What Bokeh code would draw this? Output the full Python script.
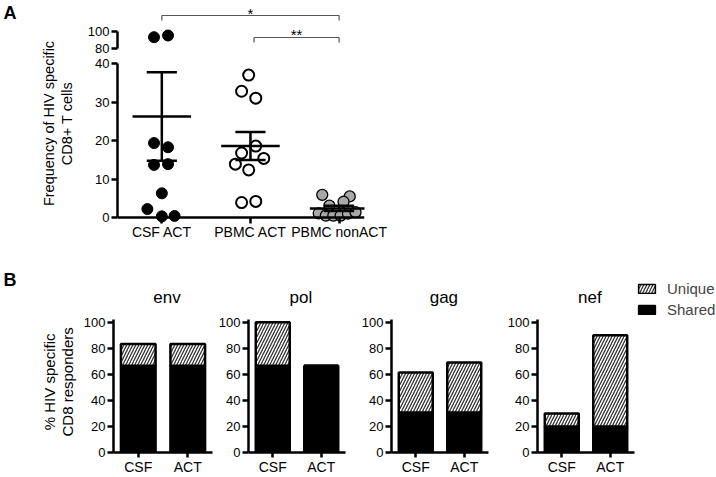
import numpy as np
from bokeh.plotting import figure
from bokeh.layouts import column, row
from bokeh.models import Range1d, FixedTicker, Span, Legend, LegendItem, ColumnDataSource
from bokeh.core.properties import value
from bokeh.transform import stack
from bokeh.embed import file_html
from bokeh.resources import INLINE

FONT = "Liberation Sans"

# ---------------- Panel A data ----------------
groups = ["CSF ACT", "PBMC ACT", "PBMC nonACT"]
csf_act = [93.3, 95.3, 19.4, 18.3, 13.7, 13.9, 6.3, 2.2, 0.3, 0.4]
csf_act_jit = [-0.088, 0.07, -0.088, 0.07, -0.088, 0.07, 0.0, -0.163, 0.0, 0.144]
pbmc_act = [37.1, 32.9, 31.1, 18.6, 16.8, 15.4, 13.9, 12.4, 3.9, 4.2]
pbmc_act_jit = [-0.02, -0.10, 0.06, 0.06, -0.10, 0.15, -0.17, -0.02, -0.10, 0.06]
pbmc_nonact = [5.9, 5.5, 4.1, 3.1, 1.1, 0.5, 0.5, 0.5, 1.0, 1.4]
pbmc_nonact_jit = [-0.19, 0.12, 0.05, -0.11, -0.23, -0.15, -0.065, 0.017, 0.10, 0.185]
upper_ticks = [80, 100]
lower_ticks = [0, 10, 20, 30, 40]
sig_pairs = [(0, 2), (1.04, 2)]
sig_marks = ["*", "**"]

# ---------------- Panel B data ----------------
genes = ["env", "pol", "gag", "nef"]
conds = ["CSF", "ACT"]
shared_csf = [66.7, 66.7, 30.8, 20.0]
unique_csf = [16.7, 33.3, 30.7, 10.0]
shared_act = [66.7, 66.7, 30.8, 20.0]
unique_act = [16.7, 0.0, 38.4, 70.0]
bar_ticks = [0, 20, 40, 60, 80, 100]


def base_fig(**kw):
    p = figure(output_backend="svg", toolbar_location=None, **kw)
    p.outline_line_color = None
    p.background_fill_color = "white"
    p.border_fill_color = "white"
    return p


def style_axis(ax, tick_out=6, font="13px"):
    ax.axis_line_width = 2.5
    ax.axis_line_color = "black"
    ax.major_tick_line_width = 2.5
    ax.major_tick_line_color = "black"
    ax.major_tick_out = tick_out
    ax.major_tick_in = 0
    ax.minor_tick_line_color = None
    ax.major_label_text_font = FONT
    ax.major_label_text_font_size = font
    ax.major_label_text_color = "black"
    ax.major_label_standoff = 2


HATCH = dict(hatch_pattern="/", hatch_color="#333333", hatch_scale=6, hatch_weight=1.3)

# ---------------- Panel A ----------------
LAB_A_W, A_W, A_ML, A_MR = 84, 316, 32, 36
PX_CAT = 89.0
frame_w = A_W - A_ML - A_MR
xr = Range1d(-0.5, -0.5 + frame_w / PX_CAT)

TOP_H = 56
top = base_fig(width=A_W, height=TOP_H, x_range=xr, y_range=Range1d(70.59, 136.47),
               min_border_left=A_ML, min_border_right=A_MR, min_border_top=0, min_border_bottom=0)
top.xaxis.visible = False
top.xgrid.visible = False
top.ygrid.visible = False
style_axis(top.yaxis[0])
top.yaxis[0].ticker = FixedTicker(ticks=upper_ticks)
top.yaxis[0].bounds = (80, 100)

BOT_H, BOT_MB = 191, 24
bot = base_fig(width=A_W, height=BOT_H, x_range=xr, y_range=Range1d(-1.5635, 41.95),
               min_border_left=A_ML, min_border_right=A_MR, min_border_top=0, min_border_bottom=BOT_MB)
bot.xgrid.visible = False
bot.ygrid.visible = False
style_axis(bot.yaxis[0])
bot.yaxis[0].ticker = FixedTicker(ticks=lower_ticks)
bot.yaxis[0].bounds = (0, 40)
xa = bot.xaxis[0]
style_axis(xa, font="14px")
xa.axis_line_color = None
xa.major_tick_in = 6
xa.major_tick_out = 0
xa.major_label_standoff = 0
xa.ticker = FixedTicker(ticks=[0, 1, 2])
xa.major_label_overrides = {i: g for i, g in enumerate(groups)}
bot.add_layout(Span(location=0, dimension="width", line_color="black", line_width=2.5))

series = [
    (csf_act, csf_act_jit, dict(fill_color="black", line_color="black", line_width=1)),
    (pbmc_act, pbmc_act_jit, dict(fill_color="white", line_color="black", line_width=2)),
    (pbmc_nonact, pbmc_nonact_jit, dict(fill_color="#a8a8a8", line_color="black", line_width=1.3)),
]
for gi, (vals, jit, sty) in enumerate(series):
    xs = [gi + j for j in jit]
    hi = [(x, v) for x, v in zip(xs, vals) if v >= 80]
    lo = [(x, v) for x, v in zip(xs, vals) if v <= 40]
    if hi:
        top.scatter([a for a, _ in hi], [b for _, b in hi], size=11, marker="circle", **sty)
    if lo:
        bot.scatter([a for a, _ in lo], [b for _, b in lo], size=11, marker="circle", **sty)
    arr = np.array(vals)
    m = arr.mean()
    sem = arr.std(ddof=1) / np.sqrt(len(arr))
    bot.segment(x0=[gi - 0.33], x1=[gi + 0.33], y0=[m], y1=[m], line_color="black", line_width=2.5)
    bot.segment(x0=[gi], x1=[gi], y0=[m - sem], y1=[m + sem], line_color="black", line_width=2.5)
    bot.segment(x0=[gi - 0.17, gi - 0.17], x1=[gi + 0.17, gi + 0.17], y0=[m - sem, m + sem],
                y1=[m - sem, m + sem], line_color="black", line_width=2.5)

# significance brackets (top panel coordinates)
br_y = [118.82, 92.94]
br_leg = [112.94, 87.06]
star_y = [121.18, 96.47]
for (a, b), yl, yleg, ys, mark in zip(sig_pairs, br_y, br_leg, star_y, sig_marks):
    top.segment(x0=[a, a, b], x1=[b, a, b], y0=[yl, yl, yl], y1=[yl, yleg, yleg],
                line_color="#555555", line_width=1.2)
    top.text(x=[(a + b) / 2], y=[ys], text=[mark], text_font=value(FONT), text_font_size="15px",
             text_align="center", text_baseline="alphabetic", text_color="black")

LAB_A_H = TOP_H + BOT_H
LAB_A_FH = LAB_A_H - BOT_MB
labA = base_fig(width=LAB_A_W, height=LAB_A_H, x_range=Range1d(0, LAB_A_W), y_range=Range1d(0, LAB_A_FH),
                x_axis_type=None, y_axis_type=None, min_border_left=0, min_border_right=0,
                min_border_top=0, min_border_bottom=BOT_MB)
labA.text(x=[3], y=[LAB_A_FH - 2], text=["A"], text_font=value(FONT), text_font_size="18px",
          text_font_style="bold", text_align="left", text_baseline="top")
labA.text(x=[48, 66], y=[LAB_A_FH - 123, LAB_A_FH - 123], text=["Frequency of HIV specific", "CD8+ T cells"],
          angle=np.pi / 2, text_font=value(FONT), text_font_size="14.5px",
          text_align="center", text_baseline="middle")

panelA = row(labA, column(top, bot))

# ---------------- Panel B ----------------
B_H, B_MB = 230, 21
B_FH = B_H - B_MB            # frame height (ry 247 -> 456)
PX_UNIT = 1.327
B_TOP = B_FH / PX_UNIT
TITLE_Y = (B_FH - (298 - 247)) / PX_UNIT
mls = [32, 30, 30, 30]
widths = [135, 143, 146, 132]
B_FW = 100
bar_figs = []
for i, g in enumerate(genes):
    w = widths[i]
    p = base_fig(width=w, height=B_H, x_range=Range1d(-0.5, 1.5), y_range=Range1d(0, B_TOP),
                 min_border_left=mls[i], min_border_right=w - mls[i] - B_FW,
                 min_border_top=0, min_border_bottom=B_MB)
    p.xgrid.visible = False
    p.ygrid.visible = False
    style_axis(p.yaxis[0], tick_out=6)
    p.yaxis[0].ticker = FixedTicker(ticks=bar_ticks)
    p.yaxis[0].bounds = (0, 102.5)
    style_axis(p.xaxis[0], tick_out=5, font="14px")
    p.xaxis[0].major_label_standoff = 1
    p.xaxis[0].ticker = FixedTicker(ticks=[0, 1])
    p.xaxis[0].major_label_overrides = {k: c for k, c in enumerate(conds)}
    src = ColumnDataSource(dict(pos=[0, 1], shared=[shared_csf[i], shared_act[i]],
                                unique=[unique_csf[i], unique_act[i]]))
    p.vbar(x="pos", bottom=stack(), top=stack("shared"), width=0.7, source=src,
           fill_color="black", line_color="black", line_width=2.5)
    p.vbar(x="pos", bottom=stack("shared"), top=stack("shared", "unique"), width=0.7, source=src,
           fill_color="white", line_color="black", line_width=2.5, **HATCH)
    p.text(x=[0.58], y=[TITLE_Y], text=[g], text_font=value(FONT), text_font_size="17px",
           text_align="center", text_baseline="alphabetic", text_color="black")
    bar_figs.append(p)

LAB_B_W = 80
labB = base_fig(width=LAB_B_W, height=B_H, x_range=Range1d(0, LAB_B_W), y_range=Range1d(0, B_FH),
                x_axis_type=None, y_axis_type=None, min_border_left=0, min_border_right=0,
                min_border_top=0, min_border_bottom=B_MB)
labB.text(x=[3], y=[B_FH - (270 - 247)], text=["B"], text_font=value(FONT), text_font_size="18px",
          text_font_style="bold", text_align="left", text_baseline="top")
labB.text(x=[49, 67], y=[B_FH - (384 - 247)] * 2, text=["% HIV specific", "CD8 responders"],
          angle=np.pi / 2, text_font=value(FONT), text_font_size="15px",
          text_align="center", text_baseline="middle")

LEG_W = 80
legf = base_fig(width=LEG_W, height=B_H, x_range=Range1d(0, 1), y_range=Range1d(0, 1),
                x_axis_type=None, y_axis_type=None, min_border_top=0, min_border_left=0,
                min_border_right=0, min_border_bottom=B_MB)
r_u = legf.vbar(x=[0.5], top=[0.5], width=0.1, fill_color="white", line_color="black", line_width=1.5,
                visible=False, **HATCH)
r_s = legf.vbar(x=[0.5], top=[0.5], width=0.1, fill_color="black", line_color="black", line_width=1.5,
                visible=False)
leg = Legend(items=[LegendItem(label="Unique", renderers=[r_u]), LegendItem(label="Shared", renderers=[r_s])],
             location=(0, 456 - 321.5), margin=0, padding=0, spacing=4, glyph_width=21, glyph_height=11,
             label_standoff=10, label_text_font=FONT, label_text_font_size="15px",
             border_line_color=None, background_fill_alpha=0)
legf.add_layout(leg)

panelB = row(labB, *bar_figs, legf)

layout = column(panelA, panelB)
open("out.html", "w").write(file_html(layout, INLINE))
